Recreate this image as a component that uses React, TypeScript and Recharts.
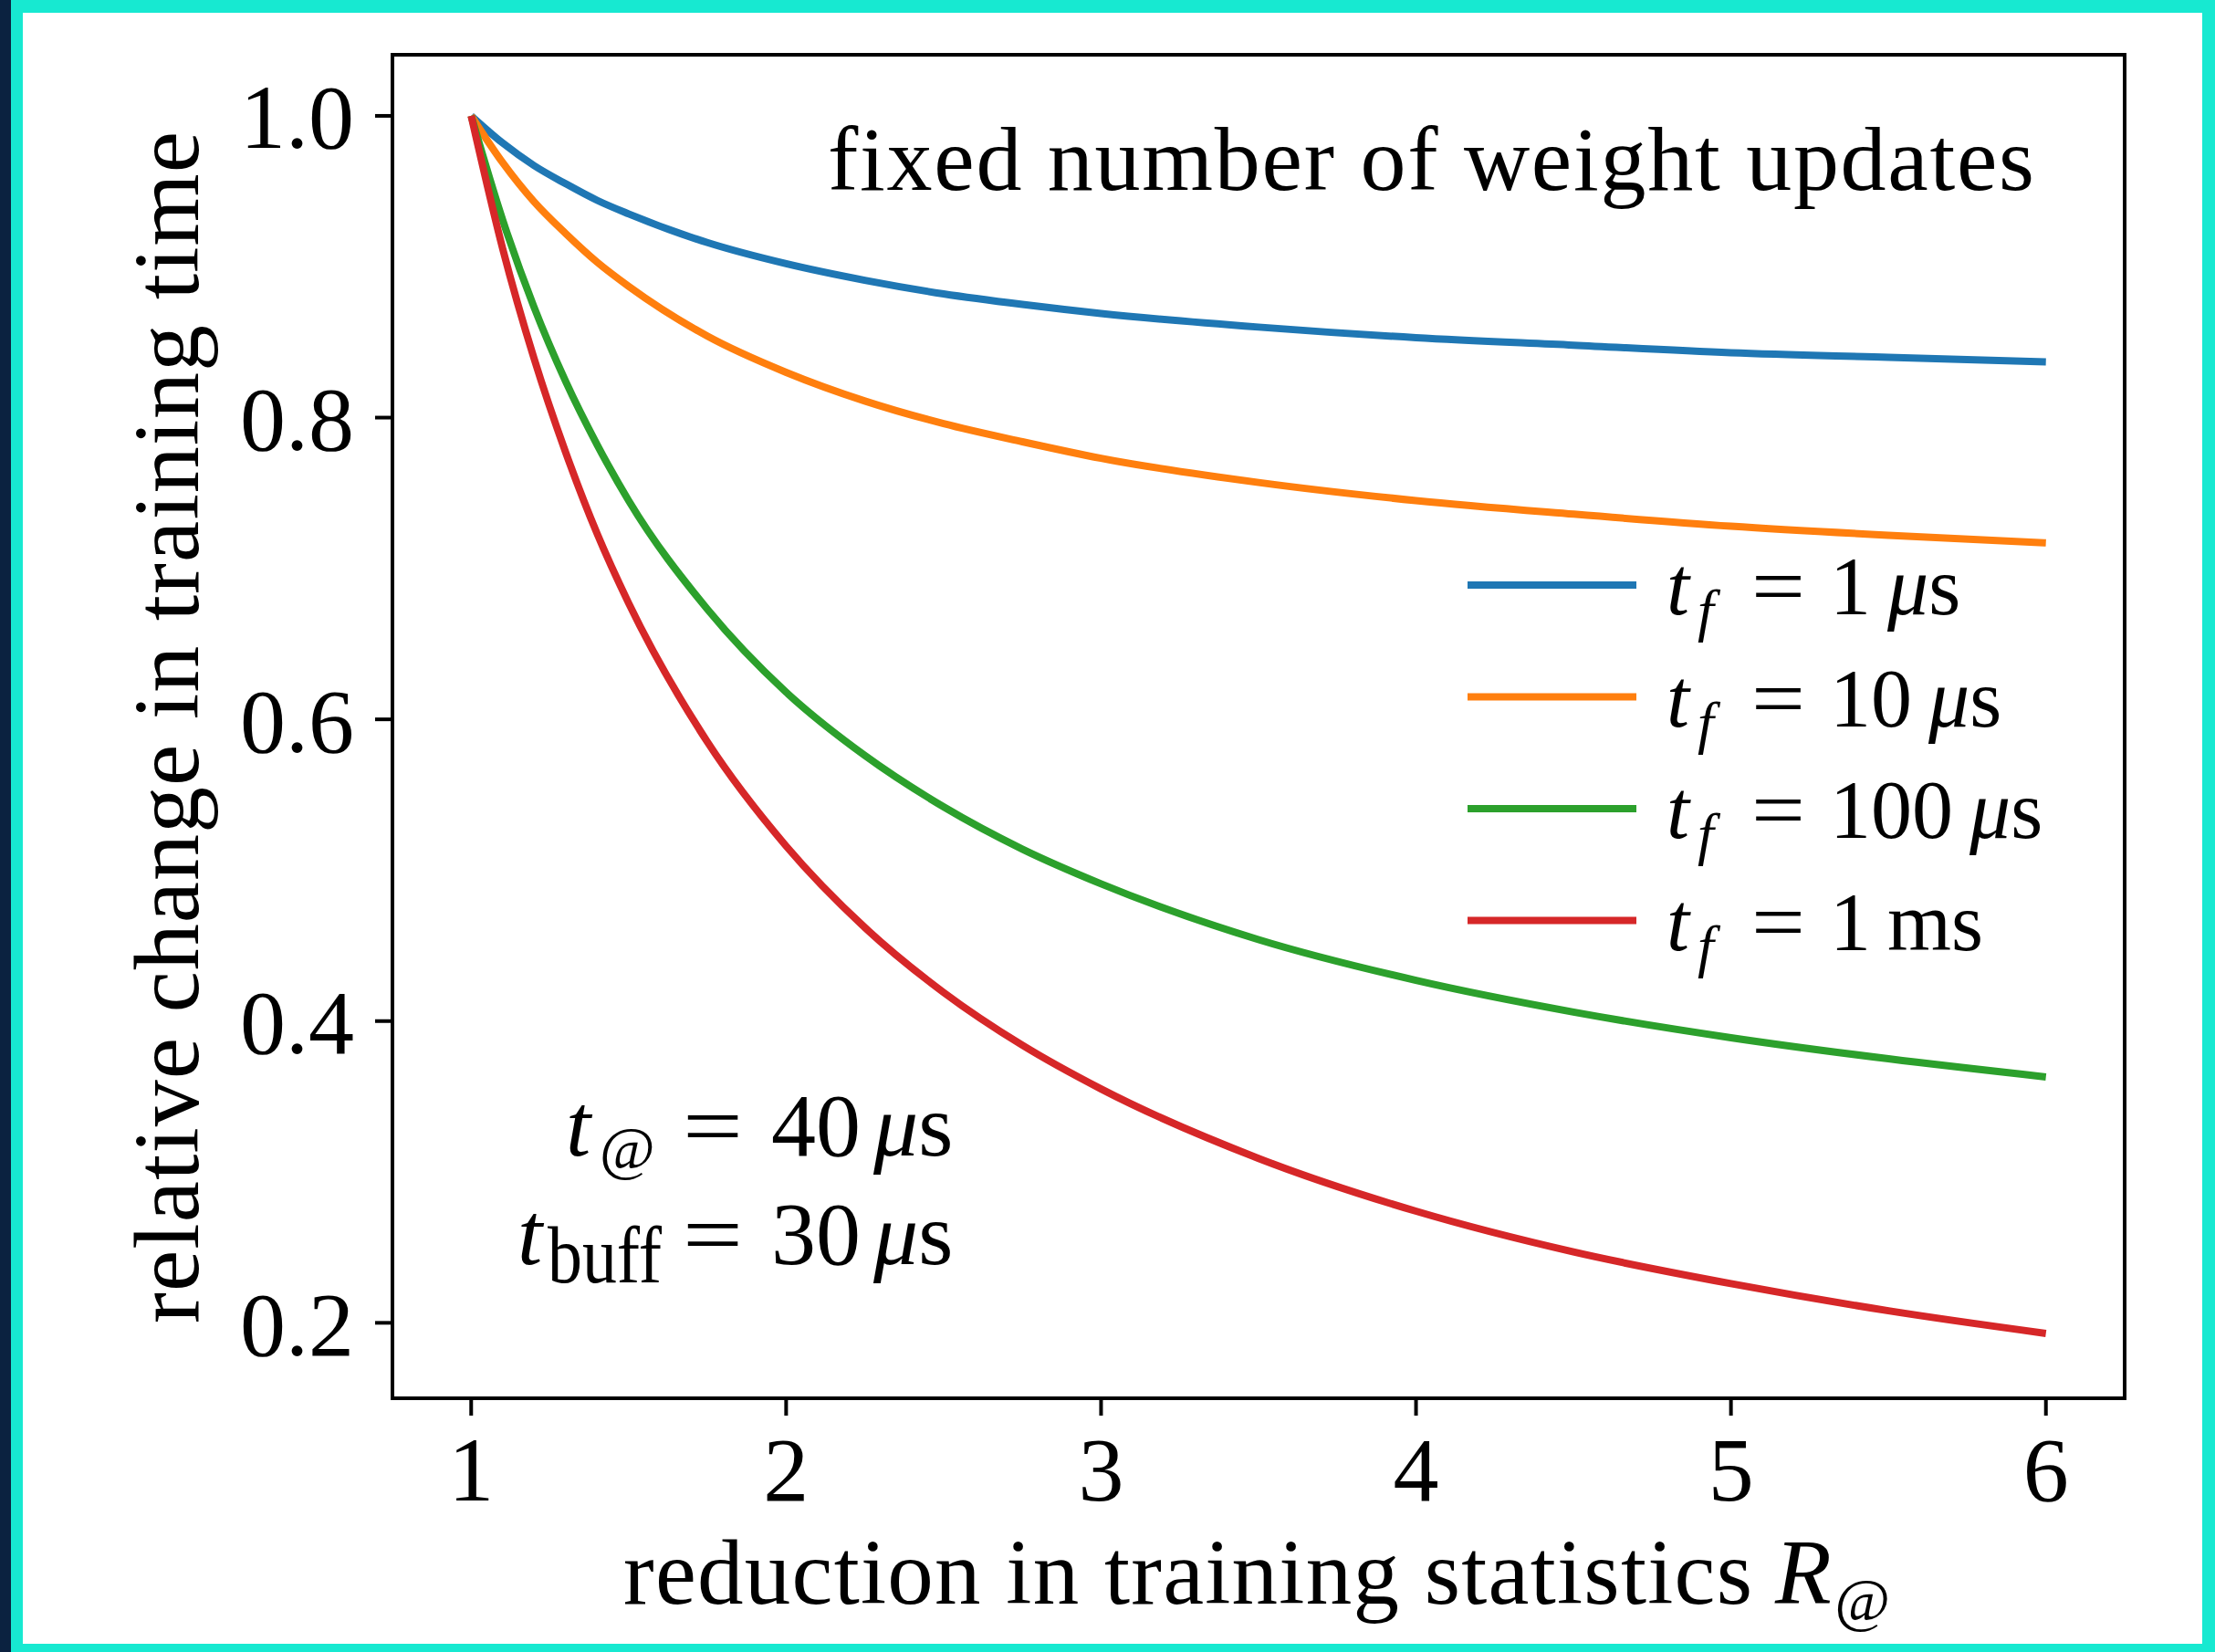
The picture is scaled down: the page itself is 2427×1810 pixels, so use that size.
import React from 'react';
import { LineChart, Line, XAxis, YAxis, ReferenceArea, Legend } from 'recharts';

// reduction in training statistics R@ (x) and relative training time per t_f
const reduction = [1, 1.1, 1.2, 1.3, 1.4, 1.5, 1.75, 2, 2.25, 2.5, 2.75, 3, 3.5, 4, 4.5, 5, 5.5, 6];
const tf1us = [1.0, 0.982, 0.967, 0.955, 0.944, 0.935, 0.916, 0.902, 0.891, 0.882, 0.875, 0.869, 0.86, 0.853, 0.848, 0.843, 0.84, 0.837];
const tf10us = [1.0, 0.969, 0.943, 0.922, 0.903, 0.887, 0.854, 0.83, 0.811, 0.796, 0.784, 0.773, 0.757, 0.745, 0.736, 0.728, 0.722, 0.717];
const tf100us = [1.0, 0.931, 0.873, 0.824, 0.782, 0.745, 0.673, 0.618, 0.576, 0.542, 0.514, 0.491, 0.454, 0.427, 0.406, 0.389, 0.375, 0.363];
const tf1ms = [1.0, 0.912, 0.839, 0.777, 0.723, 0.677, 0.585, 0.516, 0.462, 0.419, 0.384, 0.355, 0.309, 0.274, 0.247, 0.226, 0.208, 0.193];

const xTicks = [1, 2, 3, 4, 5, 6];
const yTicks = [0.2, 0.4, 0.6, 0.8, 1.0];

const seriesKeys = ['tf1us', 'tf10us', 'tf100us', 'tf1ms'];
const seriesNames = ['t_f = 1 μs', 't_f = 10 μs', 't_f = 100 μs', 't_f = 1 ms'];
const seriesColors = ['#1f77b4', '#ff7f0e', '#2ca02c', '#d62728'];
const legendNumbers = ['1', '10', '100', '1'];
const legendUnits = ['μs', 'μs', 'μs', 'ms'];

const data = reduction.map((r, i) => ({
  r,
  tf1us: tf1us[i],
  tf10us: tf10us[i],
  tf100us: tf100us[i],
  tf1ms: tf1ms[i],
}));

const FONT = "'Liberation Serif', 'DejaVu Serif', serif";

// legend drawn in the order the series were added (recharts sorts by name otherwise)
const renderLegend = () => (
  <svg width={700} height={560} style={{ display: 'block', overflow: 'visible' }}>
    {seriesNames.map((name, i) => {
      const y = 81 + i * 122.5;
      const unit = legendUnits[i];
      return (
        <g key={name}>
          <line x1={28} x2={213} y1={y} y2={y} stroke={seriesColors[i]} strokeWidth={8} />
          <text y={y + 32} fontFamily={FONT} fontSize={90} fill="#000">
            <tspan x={246} fontStyle="italic">t</tspan>
            <tspan x={280} dy={17} fontSize={64} fontStyle="italic">f</tspan>
            <tspan x={339} dy={-17} textLength={59} lengthAdjust="spacingAndGlyphs">=</tspan>
            <tspan x={425}>{legendNumbers[i]}</tspan>
            {unit === 'μs' ? (
              <>
                <tspan dx={18} fontStyle="italic">μ</tspan>
                <tspan>s</tspan>
              </>
            ) : (
              <tspan dx={18}>ms</tspan>
            )}
          </text>
        </g>
      );
    })}
  </svg>
);

export default function App() {
  return (
    <div style={{ position: 'absolute', left: 0, top: 0, width: 2427, height: 1810, background: '#17e9d1', overflow: 'hidden' }}>
      <div style={{ position: 'absolute', left: 0, top: 0, width: 12, height: 1810, background: '#0b2240' }} />
      <div style={{ position: 'absolute', left: 25, top: 14, width: 2388, height: 1787, background: '#ffffff' }} />
      <div style={{ position: 'absolute', left: 0, top: 0 }}>
        <LineChart
          width={2427}
          height={1810}
          data={data}
          margin={{ top: 60, right: 99, bottom: 178, left: 330 }}
        >
          <XAxis
            dataKey="r"
            type="number"
            domain={[0.75, 6.25]}
            ticks={xTicks}
            allowDataOverflow
            height={100}
            tickSize={19}
            tickMargin={22}
            axisLine={{ stroke: '#000', strokeWidth: 4 }}
            tickLine={{ stroke: '#000', strokeWidth: 4 }}
            tick={{ fill: '#000', fontSize: 100, fontFamily: FONT }}
          />
          <YAxis
            type="number"
            domain={[0.15, 1.0405]}
            ticks={yTicks}
            allowDataOverflow
            width={100}
            tickSize={19}
            tickMargin={23}
            tickFormatter={(v: number) => v.toFixed(1)}
            axisLine={{ stroke: '#000', strokeWidth: 4 }}
            tickLine={{ stroke: '#000', strokeWidth: 4 }}
            tick={{ fill: '#000', fontSize: 100, fontFamily: FONT }}
          />
          <ReferenceArea
            x1={0.75}
            x2={6.25}
            y1={0.15}
            y2={1.0405}
            fill="none"
            stroke="#000"
            strokeWidth={4}
            ifOverflow="visible"
          />
          {seriesKeys.map((k, i) => (
            <Line
              key={k}
              dataKey={k}
              name={seriesNames[i]}
              type="monotone"
              stroke={seriesColors[i]}
              strokeWidth={8}
              dot={false}
              activeDot={false}
              isAnimationActive={false}
            />
          ))}
          <Legend
            layout="vertical"
            align="center"
            verticalAlign="middle"
            content={renderLegend}
            wrapperStyle={{ left: 1580, top: 560, width: 700, height: 560 }}
          />
        </LineChart>
      </div>
      <svg
        width={2427}
        height={1810}
        style={{ position: 'absolute', left: 0, top: 0, pointerEvents: 'none' }}
      >
        {/* title inside the axes */}
        <text x={907} y={208} fontFamily={FONT} fontSize={100} fill="#000" textLength={1322} lengthAdjust="spacing">
          fixed number of weight updates
        </text>

        {/* parameter annotation */}
        <text y={1266} fontFamily={FONT} fontSize={98} fill="#000">
          <tspan x={620} fontStyle="italic">t</tspan>
          <tspan x={657} dy={14} fontSize={66}>@</tspan>
          <tspan x={748} dy={-14} textLength={66} lengthAdjust="spacingAndGlyphs">=</tspan>
          <tspan x={845}>40</tspan>
          <tspan dx={14} fontStyle="italic">μ</tspan>
          <tspan>s</tspan>
        </text>
        <text y={1385} fontFamily={FONT} fontSize={98} fill="#000">
          <tspan x={567} fontStyle="italic">t</tspan>
          <tspan x={600} dy={20} fontSize={88} textLength={125} lengthAdjust="spacingAndGlyphs">buff</tspan>
          <tspan x={748} dy={-20} textLength={66} lengthAdjust="spacingAndGlyphs">=</tspan>
          <tspan x={845}>30</tspan>
          <tspan dx={14} fontStyle="italic">μ</tspan>
          <tspan>s</tspan>
        </text>

        {/* axis labels */}
        <text y={1757} fontFamily={FONT} fontSize={101} fill="#000">
          <tspan x={683} textLength={1237} lengthAdjust="spacing">reduction in training statistics</tspan>
          <tspan x={1945} fontStyle="italic">R</tspan>
          <tspan x={2010} dy={18} fontSize={66} fontStyle="italic">@</tspan>
        </text>
        <text
          transform="translate(217,797) rotate(-90)"
          textAnchor="middle"
          fontFamily={FONT}
          fontSize={102}
          fill="#000"
          textLength={1306}
          lengthAdjust="spacing"
        >
          relative change in training time
        </text>
      </svg>
    </div>
  );
}
